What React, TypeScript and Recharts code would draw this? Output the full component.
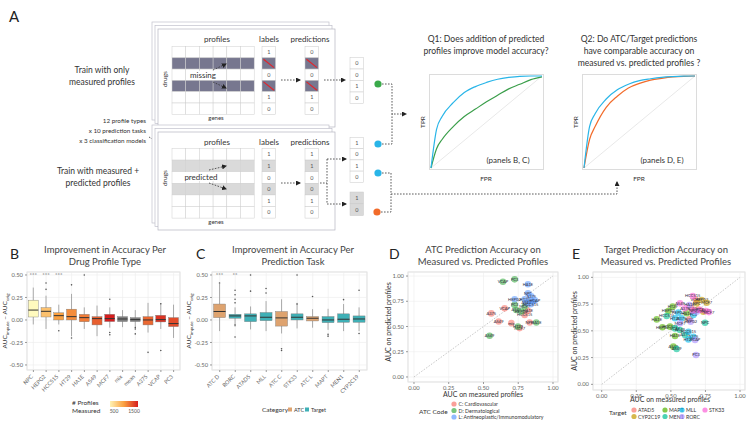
import React from 'react';
import {
  ComposedChart, Bar, XAxis, YAxis, CartesianGrid, ScatterChart, Scatter,
  LineChart, Line, ReferenceLine,
} from 'recharts';

const FONT = 'Lato, "Liberation Sans", Arial, sans-serif';

// ---- panel A: sketch ROC curves ----
const rocFpr = [0, 0.05, 0.1, 0.2, 0.3, 0.4, 0.5, 0.6, 0.7, 0.8, 0.9, 1];
const q1Imputed = [0, 0.42, 0.56, 0.71, 0.82, 0.885, 0.93, 0.965, 0.985, 0.997, 1, 1];
const q1Original = [0, 0.21, 0.31, 0.45, 0.56, 0.64, 0.72, 0.79, 0.86, 0.91, 0.96, 0.99];
const q2Measured = [0, 0.45, 0.59, 0.75, 0.85, 0.91, 0.95, 0.97, 0.985, 0.993, 0.998, 1];
const q2Predicted = [0, 0.31, 0.45, 0.66, 0.78, 0.87, 0.92, 0.955, 0.975, 0.99, 0.997, 1];

// ---- panel B: per profile type ----
const profileTypes = ['NPC', 'HEPG2', 'HCC515', 'HT29', 'HA1E', 'A549', 'MCF7', 'mix', 'mean', 'A375', 'VCAP', 'PC3'];
const profileCount = [250, 600, 800, 900, 1000, 1150, 1500, null, null, 1100, 1380, 1250];
const profileLow = [-0.05, -0.1, -0.05, -0.18, -0.1, -0.18, -0.085, -0.08, -0.08, -0.14, -0.1, -0.2];
const profileQ1 = [0.033, 0.033, 0.0, 0.0, -0.02, -0.055, -0.018, -0.018, -0.018, -0.055, -0.022, -0.074];
const profileMedian = [0.11, 0.096, 0.048, 0.037, 0.026, 0.015, 0.015, 0.011, 0.004, 0.0, 0.004, -0.04];
const profileQ3 = [0.22, 0.137, 0.08, 0.12, 0.063, 0.037, 0.063, 0.037, 0.026, 0.037, 0.052, 0.026];
const profileHigh = [0.36, 0.27, 0.17, 0.29, 0.14, 0.16, 0.14, 0.11, 0.11, 0.19, 0.185, 0.17];
const profileOutliers = [[], [0.41, 0.34], [-0.12], [0.39, -0.2], [0.5], [], [0.23, -0.14, -0.165], [], [-0.085, -0.1, -0.155], [-0.36], [0.18, -0.34], []];
const profileSig = ['***', '***', '***', '', '', '', '', '', '', '', '', ''];

// ---- panel C: per prediction task ----
const tasks = ['ATC D', 'RORC', 'ATAD5', 'MLL', 'ATC C', 'STK33', 'ATC L', 'MAPT', 'MEN1', 'CYP2C19'];
const taskCategory = ['ATC', 'Target', 'Target', 'Target', 'ATC', 'Target', 'ATC', 'Target', 'Target', 'Target'];
const taskLow = [-0.124, -0.075, -0.105, -0.124, -0.15, -0.094, -0.086, -0.11, -0.124, -0.124];
const taskQ1 = [0.026, 0.019, -0.019, -0.008, -0.068, 0.0, -0.011, -0.03, -0.026, -0.026];
const taskMedian = [0.094, 0.045, 0.045, 0.03, 0.023, 0.03, 0.019, 0.0, 0.008, 0.011];
const taskQ3 = [0.177, 0.064, 0.068, 0.083, 0.094, 0.068, 0.038, 0.038, 0.068, 0.045];
const taskHigh = [0.4, 0.14, 0.15, 0.21, 0.23, 0.19, 0.12, 0.124, 0.177, 0.14];
const taskOutliers = [[0.41], [0.33, 0.28, 0.23, 0.19, -0.056, -0.19], [0.5, 0.32], [0.35, 0.3], [-0.32, -0.34], [0.5, 0.177], [0.26], [-0.16, -0.18], [0.226], [0.33, -0.15]];
const taskSig = ['***', '**', '', '', '', '', '', '', '', ''];
const categoryColors: Record<string, string> = { ATC: '#dea36f', Target: '#3fb0b6' };

// ---- panel D: ATC accuracy measured vs predicted ----
const atcLabels = ['PC3', 'VCAP', 'HA1E', 'NPC', 'A375', 'HEPG2', 'HT29', 'MCF7', 'PC3', 'A549', 'VCAP', 'HCC515', 'A375', 'VCAP', 'PC3', 'A549', 'MCF7', 'HEPG2', 'HCC515', 'HA1E', 'A549', 'mix', 'MCF7', 'HT29', 'NPC', 'HA1E', 'A549'];
const atcCode = ['D', 'D', 'L', 'L', 'L', 'L', 'L', 'L', 'L', 'L', 'L', 'L', 'C', 'C', 'D', 'D', 'D', 'D', 'C', 'C', 'C', 'C', 'C', 'D', 'C', 'D', 'D'];
const atcMeasured = [0.724, 0.64, 0.82, 0.82, 0.844, 0.724, 0.796, 0.83, 0.856, 0.808, 0.87, 0.84, 0.556, 0.652, 0.724, 0.736, 0.796, 0.772, 0.796, 0.82, 0.609, 0.7, 0.76, 0.748, 0.832, 0.88, 0.544];
const atcPredicted = [0.967, 0.944, 0.918, 0.83, 0.8, 0.77, 0.77, 0.747, 0.747, 0.737, 0.76, 0.72, 0.63, 0.68, 0.714, 0.664, 0.697, 0.648, 0.615, 0.655, 0.55, 0.533, 0.484, 0.5, 0.54, 0.54, 0.408];
const atcCodes = ['C', 'D', 'L'];
const atcCodeNames = ['C: Cardiovascular', 'D: Dermatological', 'L: Antineoplastic/Immunomodulatory'];
const atcColors = ['#f8766d', '#3fae49', '#619cff'];

// ---- panel E: target accuracy measured vs predicted ----
const tgtLabels = ['HCC515', 'HEPG2', 'MCF7', 'A549', 'HA1E', 'NPC', 'HT29', 'A375', 'VCAP', 'PC3', 'HT29', 'A549', 'HEPG2', 'MCF7', 'HA1E', 'HEPG2', 'PC3', 'HCC515', 'HT29', 'A375', 'NPC', 'HA1E', 'MCF7', 'HEPG2', 'NPC', 'HEPG2', 'HCC515', 'VCAP', 'A549', 'HCC515', 'HA1E', 'A375', 'A375', 'HT29', 'VCAP', 'A549', 'A549', 'PC3', 'HT29', 'MCF7', 'VCAP', 'NPC'];
const tgtTarget = ['STK33', 'CYP2C19', 'CYP2C19', 'STK33', 'RORC', 'CYP2C19', 'MAPT', 'STK33', 'ATAD5', 'STK33', 'CYP2C19', 'STK33', 'MAPT', 'RORC', 'MAPT', 'MLL', 'MLL', 'MEN1', 'MLL', 'MLL', 'ATAD5', 'MAPT', 'RORC', 'RORC', 'MEN1', 'MAPT', 'MAPT', 'MEN1', 'MEN1', 'MLL', 'MAPT', 'MEN1', 'MLL', 'MLL', 'RORC', 'MAPT', 'MEN1', 'RORC', 'ATAD5', 'STK33', 'ATAD5', 'STK33'];
const tgtMeasured = [0.658, 0.723, 0.759, 0.566, 0.634, 0.687, 0.513, 0.602, 0.65, 0.711, 0.735, 0.754, 0.482, 0.687, 0.614, 0.554, 0.663, 0.47, 0.53, 0.578, 0.634, 0.398, 0.566, 0.643, 0.747, 0.439, 0.494, 0.53, 0.566, 0.627, 0.53, 0.602, 0.663, 0.627, 0.675, 0.518, 0.542, 0.682, 0.7, 0.775, 0.68, 0.66];
const tgtPredicted = [0.826, 0.788, 0.763, 0.757, 0.741, 0.757, 0.726, 0.71, 0.71, 0.695, 0.679, 0.685, 0.685, 0.679, 0.664, 0.67, 0.648, 0.639, 0.617, 0.617, 0.607, 0.607, 0.57, 0.586, 0.576, 0.533, 0.539, 0.523, 0.508, 0.492, 0.452, 0.461, 0.445, 0.42, 0.414, 0.352, 0.33, 0.274, 0.7, 0.675, 0.79, 0.69];
const targets = ['ATAD5', 'CYP2C19', 'MAPT', 'MEN1', 'MLL', 'RORC', 'STK33'];
const targetColors = ['#f8766d', '#c49a00', '#53b400', '#00c094', '#00b6eb', '#a58aff', '#fb61d7'];

const yTicks = [-0.5, -0.25, 0, 0.25, 0.5];
const aucTicks = [0, 0.25, 0.5, 0.75, 1];

function countColor(n: number | null) {
  if (n == null) return '#7f7f7f';
  const stops: [number, number[]][] = [[250, [255, 250, 190]], [800, [250, 160, 64]], [1500, [214, 30, 30]]];
  let a = stops[0], b = stops[1];
  if (n > 800) { a = stops[1]; b = stops[2]; }
  const t = Math.max(0, Math.min(1, (n - a[0]) / (b[0] - a[0])));
  const c = a[1].map((v, k) => Math.round(v + (b[1][k] - v) * t));
  return `rgb(${c[0]},${c[1]},${c[2]})`;
}

const profileRows = profileTypes.map((name, i) => ({
  name, lo: profileLow[i], q1: profileQ1[i], med: profileMedian[i], q3: profileQ3[i], hi: profileHigh[i],
  out: profileOutliers[i], sig: profileSig[i], color: countColor(profileCount[i]),
}));
const taskRows = tasks.map((name, i) => ({
  name, lo: taskLow[i], q1: taskQ1[i], med: taskMedian[i], q3: taskQ3[i], hi: taskHigh[i],
  out: taskOutliers[i], sig: taskSig[i], color: categoryColors[taskCategory[i]],
}));
const rocQ1 = rocFpr.map((f, i) => ({ fpr: f, a: q1Imputed[i], b: q1Original[i] }));
const rocQ2 = rocFpr.map((f, i) => ({ fpr: f, a: q2Measured[i], b: q2Predicted[i] }));
const atcPoints = atcLabels.map((label, i) => ({ label, code: atcCode[i], x: atcMeasured[i], y: atcPredicted[i] }));
const tgtPoints = tgtLabels.map((label, i) => ({ label, target: tgtTarget[i], x: tgtMeasured[i], y: tgtPredicted[i] }));

// box drawn inside the whisker range bar; values mapped linearly from the bar's own pixels
const BoxShape = (props: any) => {
  const { x, y, width, height, payload } = props;
  if (!payload) return null;
  const { lo, hi, q1, q3, med, out, sig, color } = payload;
  const py = (v: number) => y + ((hi - v) / (hi - lo)) * height;
  const cx = x + width / 2;
  return (
    <g>
      <line x1={cx} x2={cx} y1={py(hi)} y2={py(lo)} stroke="#8a8a8a" strokeWidth={0.7} />
      <rect x={x} y={py(q3)} width={width} height={py(q1) - py(q3)} fill={color} stroke="#7a7a7a" strokeWidth={0.4} />
      <line x1={x} x2={x + width} y1={py(med)} y2={py(med)} stroke="#333" strokeWidth={1} />
      {out.map((o: number, k: number) => <circle key={k} cx={cx} cy={py(o)} r={0.8} fill="#555" />)}
      {sig ? <text x={cx} y={py(0.5) + 2.2} textAnchor="middle" fontSize={6} fill="#666">{sig}</text> : null}
    </g>
  );
};

const RotTick = (props: any) => {
  const { x, y, payload } = props;
  return (
    <g transform={`translate(${x},${y + 3})`}>
      <text transform="rotate(-45)" textAnchor="end" fontSize={5.5} fill="#666" fontFamily={FONT}>{payload.value}</text>
    </g>
  );
};

const PointShape = (props: any) => {
  const { cx, cy, fill, payload } = props;
  return (
    <g>
      <circle cx={cx} cy={cy} r={3.3} fill={fill} fillOpacity={0.6} />
      <text x={cx} y={cy + 1.4} textAnchor="middle" fontSize={4} fill="#2a2a3a" fontFamily={FONT}>{payload.label}</text>
    </g>
  );
};

const tickStyle = { fontSize: 5.8, fill: '#666', fontFamily: FONT };
const fmt2 = (v: number) => v.toFixed(2);

function BoxPanel({ rows, left }: { rows: any[]; left: number }) {
  return (
    <div style={{ position: 'absolute', left, top: 268 }}>
      <ComposedChart width={185} height={130} data={rows} margin={{ top: 4, right: left ? 3 : 5, bottom: 0, left: 5 }}>
        <CartesianGrid stroke="#ececec" strokeWidth={0.6} />
        <XAxis dataKey="name" interval={0} height={28} tick={<RotTick />} tickLine={{ stroke: '#999' }} tickSize={2} axisLine={false} />
        <YAxis type="number" domain={[-0.556, 0.533]} ticks={yTicks} interval={0} allowDataOverflow width={22}
          tickFormatter={fmt2} tick={tickStyle} tickSize={2} tickLine={{ stroke: '#999' }} axisLine={false} />
        <Bar dataKey={(d: any) => [d.lo, d.hi]} shape={BoxShape} isAnimationActive={false} />
      </ComposedChart>
    </div>
  );
}

function RocBox({ rows, left, colorB }: { rows: any[]; left: number; colorB: string }) {
  return (
    <div style={{ position: 'absolute', left, top: 74, width: 115, height: 96, border: '1px solid #dcdcdc', boxSizing: 'border-box' }}>
      <LineChart width={113} height={94} data={rows} margin={{ top: 1, right: 1, bottom: 1, left: 1 }}>
        <XAxis dataKey="fpr" type="number" domain={[0, 1]} hide />
        <YAxis type="number" domain={[0, 1]} hide />
        <ReferenceLine segment={[{ x: 0, y: 0 }, { x: 1, y: 1 }]} stroke="#e2e2e2" strokeWidth={0.8} />
        <Line dataKey="b" type="monotone" stroke={colorB} strokeWidth={1.2} dot={false} isAnimationActive={false} />
        <Line dataKey="a" type="monotone" stroke="#29b5e8" strokeWidth={1.2} dot={false} isAnimationActive={false} />
      </LineChart>
    </div>
  );
}

function Cells({ x, y, vals, rh, shade, shadeColor, slash }: any) {
  return (
    <g>
      {vals.map((v: string, i: number) => (
        <g key={i}>
          <rect x={x} y={y + i * rh} width={13.5} height={rh}
            fill={shade.includes(i) ? shadeColor : '#fff'} stroke="#c9c9c9" strokeWidth={0.5} />
          {v === 'X' && slash ? (
            <line x1={x + 1.5} y1={y + i * rh + 1.5} x2={x + 12} y2={y + (i + 1) * rh - 1.5} stroke="#e3242b" strokeWidth={1.2} />
          ) : (
            <text x={x + 6.75} y={y + i * rh + rh / 2 + 2} textAnchor="middle" fontSize={5.5} fill="#555">{v}</text>
          )}
        </g>
      ))}
    </g>
  );
}

function Grid({ y, rh, shade, shadeColor }: any) {
  const cols = [0, 1, 2, 3, 4, 5];
  return (
    <g>
      {cols.map((r) => cols.map((c) => (
        <rect key={`${r}-${c}`} x={172 + c * 13.7} y={y + r * rh} width={13.7} height={rh}
          fill={shade.includes(r) ? shadeColor : '#fff'} stroke="#cfcfcf" strokeWidth={0.5} />
      )))}
    </g>
  );
}

function Card({ y }: { y: number }) {
  return (
    <g>
      <rect x={152} y={y - 7} width={177} height={98} fill="#fff" stroke="#c0c0cc" strokeWidth={0.7} />
      <rect x={155} y={y - 3.5} width={177} height={98} fill="#fff" stroke="#c0c0cc" strokeWidth={0.7} />
      <rect x={158} y={y} width={177} height={98} fill="#fff" stroke="#b5b5c0" strokeWidth={0.7} />
    </g>
  );
}

const dash = { stroke: '#333', strokeWidth: 0.8, strokeDasharray: '1.6 1.4', fill: 'none' };

function Overlay() {
  const pl = (pts: number[][]) => pts.map((p) => p.join(',')).join(' ');
  const legendSlots = [[0, 0], [0, 1], [1, 0], [1, 1], [2, 0], [2, 1], [3, 0]];
  const legendXs = [634, 665, 682, 705];
  return (
    <svg width={750} height={423} style={{ position: 'absolute', left: 0, top: 0 }} fontFamily={FONT}>
      <defs>
        <marker id="ah" markerWidth={5} markerHeight={5} refX={4} refY={2.5} orient="auto" markerUnits="userSpaceOnUse">
          <path d="M0,0 L5,2.5 L0,5 z" fill="#222" />
        </marker>
        <linearGradient id="cnt" x1="0" x2="1" y1="0" y2="0">
          <stop offset="0" stopColor={countColor(300)} />
          <stop offset="0.5" stopColor={countColor(800)} />
          <stop offset="1" stopColor={countColor(1500)} />
        </linearGradient>
      </defs>
      <text x={9} y={22} fontSize={15} fill="#222">A</text>

      {/* left captions */}
      <text x={102} y={73} textAnchor="middle" fontSize={8.5} fill="#333">Train with only</text>
      <text x={102} y={85} textAnchor="middle" fontSize={8.5} fill="#333">measured profiles</text>
      <text x={146} y={123} textAnchor="end" fontSize={6.3} fill="#333">12 profile types</text>
      <text x={146} y={133} textAnchor="end" fontSize={6.3} fill="#333">x 10 prediction tasks</text>
      <text x={146} y={143} textAnchor="end" fontSize={6.3} fill="#333">x 3 classification models</text>
      <polyline points={pl([[149, 137], [164, 146]])} style={dash} />
      <text x={98} y={174} textAnchor="middle" fontSize={8.5} fill="#333">Train with measured +</text>
      <text x={98} y={186} textAnchor="middle" fontSize={8.5} fill="#333">predicted profiles</text>

      {/* upper card */}
      <Card y={29} />
      <text x={217} y={42} textAnchor="middle" fontSize={8} fill="#333">profiles</text>
      <text x={269} y={42} textAnchor="middle" fontSize={8} fill="#333">labels</text>
      <text x={310} y={42} textAnchor="middle" fontSize={8} fill="#333">predictions</text>
      <Grid y={46.5} rh={11.3} shade={[1, 3]} shadeColor="#77778f" />
      <Cells x={262} y={46.5} rh={11.3} vals={['1', 'X', '0', 'X', '1', '0']} shade={[1, 3]} shadeColor="#77778f" slash />
      <Cells x={305} y={46.5} rh={11.3} vals={['0', 'X', '0', 'X', '1', '0']} shade={[1, 3]} shadeColor="#77778f" slash />
      <rect x={186} y={71} width={34} height={9} fill="#fff" />
      <text x={203} y={78} textAnchor="middle" fontSize={8} fill="#333">missing</text>
      <text transform="translate(167,79) rotate(-90)" textAnchor="middle" fontSize={6.5} fill="#333">drugs</text>
      <text x={216} y={120} textAnchor="middle" fontSize={6} fill="#333">genes</text>
      <polyline points={pl([[213, 70], [226, 64]])} style={dash} markerEnd="url(#ah)" />
      <polyline points={pl([[213, 82], [226, 88]])} style={dash} markerEnd="url(#ah)" />
      <polyline points={pl([[281, 80], [300, 80]])} style={dash} markerEnd="url(#ah)" />
      <polyline points={pl([[324, 80], [345, 80]])} style={dash} markerEnd="url(#ah)" />
      <Cells x={350} y={57.5} rh={11.5} vals={['0', '0', '1', '0']} shade={[]} shadeColor="#fff" />
      <circle cx={378} cy={84} r={3.6} fill="#3aaa4a" />

      {/* lower card */}
      <Card y={132} />
      <text x={217} y={145} textAnchor="middle" fontSize={8} fill="#333">profiles</text>
      <text x={269} y={145} textAnchor="middle" fontSize={8} fill="#333">labels</text>
      <text x={310} y={145} textAnchor="middle" fontSize={8} fill="#333">predictions</text>
      <Grid y={148.5} rh={11.6} shade={[1, 3]} shadeColor="#dadada" />
      <Cells x={262} y={148.5} rh={11.6} vals={['1', '1', '0', '0', '1', '0']} shade={[1, 3]} shadeColor="#dadada" />
      <Cells x={305} y={148.5} rh={11.6} vals={['1', '1', '0', '0', '1', '0']} shade={[1, 3]} shadeColor="#dadada" />
      <rect x={181} y={172} width={40} height={9} fill="#fff" />
      <text x={201} y={179.5} textAnchor="middle" fontSize={8} fill="#333">predicted</text>
      <text transform="translate(167,178) rotate(-90)" textAnchor="middle" fontSize={6.5} fill="#333">drugs</text>
      <text x={216} y={224} textAnchor="middle" fontSize={6} fill="#333">genes</text>
      <polyline points={pl([[209, 170], [226, 166]])} style={dash} markerEnd="url(#ah)" />
      <polyline points={pl([[209, 183], [226, 189]])} style={dash} markerEnd="url(#ah)" />
      <polyline points={pl([[281, 183], [300, 183]])} style={dash} markerEnd="url(#ah)" />
      <polyline points={pl([[320, 183], [327, 183]])} style={dash} />
      <polyline points={pl([[327, 159], [346, 159]])} style={dash} markerEnd="url(#ah)" />
      <polyline points={pl([[327, 159], [327, 204], [346, 204]])} style={dash} markerEnd="url(#ah)" />
      <Cells x={350} y={137.5} rh={11.2} vals={['1', '0', '1', '0']} shade={[]} shadeColor="#fff" />
      <Cells x={350} y={192} rh={11.8} vals={['1', '0']} shade={[0, 1]} shadeColor="#d9d9d9" />
      <circle cx={378} cy={144} r={3.6} fill="#29b5e8" />
      <circle cx={378} cy={173} r={3.6} fill="#29b5e8" />
      <circle cx={377} cy={212} r={3.6} fill="#f26b2a" />

      {/* connectors to ROC sketches */}
      <polyline points={pl([[382, 84], [392, 84], [392, 114], [406, 114]])} style={dash} markerEnd="url(#ah)" />
      <polyline points={pl([[382, 144], [392, 144], [392, 114]])} style={dash} />
      <polyline points={pl([[382, 173], [391, 173], [391, 194], [617, 194], [617, 182]])} style={dash} markerEnd="url(#ah)" />
      <polyline points={pl([[381, 212], [391, 212], [391, 194]])} style={dash} />

      {/* ROC sketch captions */}
      <text x={486} y={42} textAnchor="middle" fontSize={8.6} fill="#333">Q1: Does addition of predicted</text>
      <text x={486} y={54} textAnchor="middle" fontSize={8.6} fill="#333">profiles improve model accuracy?</text>
      <text x={639} y={42} textAnchor="middle" fontSize={8.6} fill="#333">Q2: Do ATC/Target predictions</text>
      <text x={639} y={54} textAnchor="middle" fontSize={8.6} fill="#333">have comparable accuracy on</text>
      <text x={639} y={66} textAnchor="middle" fontSize={8.6} fill="#333">measured vs. predicted profiles ?</text>
      <text transform="translate(425,122) rotate(-90)" textAnchor="middle" fontSize={6.5} fill="#333">TPR</text>
      <text transform="translate(578,122) rotate(-90)" textAnchor="middle" fontSize={6.5} fill="#333">TPR</text>
      <text x={486} y={181} textAnchor="middle" fontSize={6.5} fill="#333">FPR</text>
      <text x={639} y={181} textAnchor="middle" fontSize={6.5} fill="#333">FPR</text>
      <text x={508} y={163} textAnchor="middle" fontSize={8} fill="#333">(panels B, C)</text>
      <text x={662} y={163} textAnchor="middle" fontSize={8} fill="#333">(panels D, E)</text>

      {/* panel letters + titles */}
      <text x={10} y={259} fontSize={14} fill="#222">B</text>
      <text x={105} y={253} textAnchor="middle" fontSize={9.5} fill="#444">Improvement in Accuracy Per</text>
      <text x={105} y={265} textAnchor="middle" fontSize={9.5} fill="#444">Drug Profile Type</text>
      <text x={196} y={259} fontSize={14} fill="#222">C</text>
      <text x={293} y={253} textAnchor="middle" fontSize={9.5} fill="#444">Improvement in Accuracy Per</text>
      <text x={293} y={265} textAnchor="middle" fontSize={9.5} fill="#444">Prediction Task</text>
      <text x={389} y={259} fontSize={14} fill="#222">D</text>
      <text x={483} y={253} textAnchor="middle" fontSize={9.5} fill="#444">ATC Prediction Accuracy on</text>
      <text x={483} y={265} textAnchor="middle" fontSize={9.5} fill="#444">Measured vs. Predicted Profiles</text>
      <text x={572} y={259} fontSize={14} fill="#222">E</text>
      <text x={666} y={253} textAnchor="middle" fontSize={9.5} fill="#444">Target Prediction Accuracy on</text>
      <text x={666} y={265} textAnchor="middle" fontSize={9.5} fill="#444">Measured vs. Predicted Profiles</text>

      {/* panel frames */}
      <rect x={27} y={272} width={153} height={98} fill="none" stroke="#d4d4d4" strokeWidth={0.8} />
      <rect x={212} y={272} width={155} height={98} fill="none" stroke="#d4d4d4" strokeWidth={0.8} />
      <rect x={408} y={272} width={150} height={110} fill="none" stroke="#d4d4d4" strokeWidth={0.8} />
      <rect x={593} y={272} width={152} height={118} fill="none" stroke="#d4d4d4" strokeWidth={0.8} />

      {/* axis titles */}
      {[7, 191].map((x) => (
        <text key={x} transform={`translate(${x},321) rotate(-90)`} textAnchor="middle" fontSize={6.5} fill="#333">
          AUC<tspan fontSize={4.5} dy={1.5}>impute</tspan><tspan dy={-1.5}> – AUC</tspan><tspan fontSize={4.5} dy={1.5}>orig</tspan>
        </text>
      ))}
      <text transform="translate(391,322) rotate(-90)" textAnchor="middle" fontSize={7} fill="#333">AUC on predicted profiles</text>
      <text x={483} y={397} textAnchor="middle" fontSize={7} fill="#333">AUC on measured profiles</text>
      <text transform="translate(577,331) rotate(-90)" textAnchor="middle" fontSize={7} fill="#333">AUC on predicted profiles</text>
      <text x={670} y={402} textAnchor="middle" fontSize={7} fill="#333">AUC on measured profiles</text>

      {/* legend B */}
      <text x={72} y={405} fontSize={6.5} fill="#333">{'# Profiles'}</text>
      <text x={72} y={413} fontSize={6.5} fill="#333">Measured</text>
      <rect x={110} y={401} width={28} height={6} fill="url(#cnt)" />
      <text x={114} y={413} textAnchor="middle" fontSize={5} fill="#555">500</text>
      <text x={134} y={413} textAnchor="middle" fontSize={5} fill="#555">1500</text>

      {/* legend C */}
      <text x={262} y={412} fontSize={6.5} fill="#333">Category</text>
      <rect x={288} y={407.5} width={4} height={4} fill={categoryColors.ATC} />
      <text x={294} y={412} fontSize={5.5} fill="#333">ATC</text>
      <rect x={305} y={407.5} width={4} height={4} fill={categoryColors.Target} />
      <text x={311} y={412} fontSize={5.5} fill="#333">Target</text>

      {/* legend D */}
      <text x={419} y={414} fontSize={6.5} fill="#333">ATC Code</text>
      {atcCodeNames.map((n, i) => (
        <g key={n}>
          <circle cx={454} cy={404 + i * 6.5} r={2.6} fill={atcColors[i]} fillOpacity={0.7} />
          <text x={458.5} y={406 + i * 6.5} fontSize={5.2} fill="#333">{n}</text>
        </g>
      ))}

      {/* legend E */}
      <text x={609} y={415} fontSize={6.5} fill="#333">Target</text>
      {targets.map((t, i) => {
        const [cc, rr] = legendSlots[i];
        return (
          <g key={t}>
            <circle cx={legendXs[cc]} cy={410 + rr * 6.5} r={2.6} fill={targetColors[i]} fillOpacity={0.7} />
            <text x={legendXs[cc] + 4} y={412 + rr * 6.5} fontSize={5.2} fill="#333">{t}</text>
          </g>
        );
      })}
    </svg>
  );
}

export default function App() {
  return (
    <div style={{ position: 'absolute', left: 0, top: 0, width: 750, height: 423, background: '#fff', fontFamily: FONT, overflow: 'hidden' }}>
      <Overlay />
      <RocBox rows={rocQ1} left={429} colorB="#3a9e4a" />
      <RocBox rows={rocQ2} left={582} colorB="#f26b2a" />
      <BoxPanel rows={profileRows} left={0} />
      <BoxPanel rows={taskRows} left={185} />

      <div style={{ position: 'absolute', left: 375, top: 268 }}>
        <ScatterChart width={185} height={126} margin={{ top: 4, right: 2, bottom: 0, left: 9 }}>
          <CartesianGrid stroke="#ececec" strokeWidth={0.6} />
          <XAxis dataKey="x" type="number" domain={[-0.043, 1.036]} ticks={aucTicks} interval={0} allowDataOverflow height={12}
            tickFormatter={fmt2} tick={tickStyle} tickSize={2} tickLine={{ stroke: '#999' }} axisLine={false} />
          <YAxis dataKey="y" type="number" domain={[-0.05, 1.04]} ticks={aucTicks} interval={0} allowDataOverflow width={24}
            tickFormatter={fmt2} tick={tickStyle} tickSize={2} tickLine={{ stroke: '#999' }} axisLine={false} />
          <ReferenceLine segment={[{ x: 0, y: 0 }, { x: 1, y: 1 }]} stroke="#c8c8c8" strokeDasharray="1.5 1.5" />
          {atcCodes.map((c, i) => (
            <Scatter key={c} data={atcPoints.filter((p) => p.code === c)} fill={atcColors[i]} shape={PointShape} isAnimationActive={false} />
          ))}
        </ScatterChart>
      </div>

      <div style={{ position: 'absolute', left: 560, top: 268 }}>
        <ScatterChart width={190} height={134} margin={{ top: 4, right: 5, bottom: 0, left: 9 }}>
          <CartesianGrid stroke="#ececec" strokeWidth={0.6} />
          <XAxis dataKey="x" type="number" domain={[-0.063, 1.036]} ticks={aucTicks} interval={0} allowDataOverflow height={12}
            tickFormatter={fmt2} tick={tickStyle} tickSize={2} tickLine={{ stroke: '#999' }} axisLine={false} />
          <YAxis dataKey="y" type="number" domain={[-0.053, 1.05]} ticks={aucTicks} interval={0} allowDataOverflow width={24}
            tickFormatter={fmt2} tick={tickStyle} tickSize={2} tickLine={{ stroke: '#999' }} axisLine={false} />
          <ReferenceLine segment={[{ x: 0, y: 0 }, { x: 1, y: 1 }]} stroke="#c8c8c8" strokeDasharray="1.5 1.5" />
          {targets.map((t, i) => (
            <Scatter key={t} data={tgtPoints.filter((p) => p.target === t)} fill={targetColors[i]} shape={PointShape} isAnimationActive={false} />
          ))}
        </ScatterChart>
      </div>
    </div>
  );
}
